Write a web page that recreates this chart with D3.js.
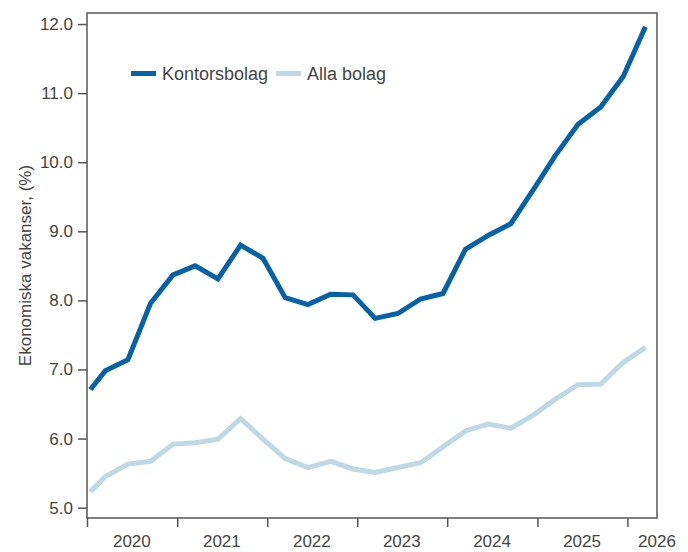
<!DOCTYPE html>
<html>
<head>
<meta charset="utf-8">
<script src="https://cdn.jsdelivr.net/npm/d3@7"></script>
<style>
  html, body { margin: 0; padding: 0; background: #fff; }
  svg { display: block; font-family: "Liberation Sans", Arial, sans-serif; }
</style>
</head>
<body>
<svg id="chart" width="688" height="552"></svg>
<script>
// Quarterly observations (first one in January 2020)
const dates = ["2020-01","2020-03","2020-06","2020-09","2020-12",
  "2021-03","2021-06","2021-09","2021-12",
  "2022-03","2022-06","2022-09","2022-12",
  "2023-03","2023-06","2023-09","2023-12",
  "2024-03","2024-06","2024-09","2024-12",
  "2025-03","2025-06","2025-09","2025-12",
  "2026-03"];

const kontorsbolag = [6.71, 6.98, 7.14, 7.96, 8.37, 8.50, 8.31, 8.80, 8.61,
  8.04, 7.94, 8.09, 8.08, 7.74, 7.81, 8.02, 8.10,
  8.74, 8.94, 9.11, 9.60, 10.10, 10.55, 10.80, 11.24, 11.96];

const allaBolag = [5.23, 5.45, 5.63, 5.67, 5.92, 5.94, 5.99, 6.29, 5.99,
  5.71, 5.58, 5.67, 5.56, 5.51, 5.58, 5.65, 5.88,
  6.11, 6.21, 6.15, 6.34, 6.57, 6.78, 6.79, 7.10, 7.32];

const seriesNames = ["Kontorsbolag", "Alla bolag"];
const yearTicks = [2020, 2021, 2022, 2023, 2024, 2025, 2026];
const yTicks = [5, 6, 7, 8, 9, 10, 11, 12];
const yTitle = "Ekonomiska vakanser, (%)";

const colors = ["#0562a8", "#bed8e4"];
const textColor = "#444";
const frameColor = "#555";

const svg = d3.select("#chart");
const plotLeft = 87, plotRight = 657, plotTop = 13, plotBottom = 518;

const parse = d3.timeParse("%Y-%m-%d");
const when = dates.map(d => parse(d + "-15"));

const x = d3.scaleTime()
  .domain([new Date(2020, 0, 1), new Date(2026, 4, 1)])
  .range([plotLeft, plotRight]);
const y = d3.scaleLinear()
  .domain([4.85, 12.16])
  .range([plotBottom, plotTop]);

// Y axis
const yAxis = svg.append("g")
  .attr("transform", `translate(${plotLeft},0)`)
  .call(d3.axisLeft(y).tickValues(yTicks).tickFormat(d3.format(".1f"))
    .tickSize(9).tickPadding(5));
yAxis.select(".domain").remove();
yAxis.selectAll(".tick line").attr("stroke", frameColor).attr("stroke-width", 1.5);
yAxis.selectAll(".tick text").attr("fill", textColor).attr("font-size", 17)
  .attr("font-family", "Liberation Sans, Arial, sans-serif");

// X axis: ticks at year starts, labels centred within each year
const xAxis = svg.append("g")
  .attr("transform", `translate(0,${plotBottom})`)
  .call(d3.axisBottom(x).tickValues(yearTicks.map(yr => new Date(yr, 0, 1)))
    .tickFormat("").tickSize(9));
xAxis.select(".domain").remove();
xAxis.selectAll(".tick line").attr("stroke", frameColor).attr("stroke-width", 1.5);

svg.append("g").selectAll("text")
  .data(yearTicks)
  .join("text")
  .attr("x", yr => Math.min(x(new Date(yr, 6, 1)), plotRight))
  .attr("y", 547)
  .attr("text-anchor", "middle")
  .attr("fill", textColor)
  .attr("font-size", 17)
  .text(yr => yr);

// Plot frame
svg.append("rect")
  .attr("x", plotLeft).attr("y", plotTop)
  .attr("width", plotRight - plotLeft).attr("height", plotBottom - plotTop)
  .attr("fill", "none")
  .attr("stroke", frameColor)
  .attr("stroke-width", 1.5);

// Y axis title
svg.append("text")
  .attr("transform", `translate(30.5,${(plotTop + plotBottom) / 2}) rotate(-90)`)
  .attr("text-anchor", "middle")
  .attr("fill", textColor)
  .attr("font-size", 17)
  .text(yTitle);

// Lines: lighter series first so the darker one sits on top
const line = d3.line()
  .x((d, i) => x(when[i]))
  .y(d => y(d));

[allaBolag, kontorsbolag].forEach((vals, k) => {
  svg.append("path")
    .datum(vals)
    .attr("d", line)
    .attr("fill", "none")
    .attr("stroke", colors[1 - k])
    .attr("stroke-width", 5);
});

// Legend
const legendItems = [
  { name: seriesNames[0], color: colors[0], x: 131 },
  { name: seriesNames[1], color: colors[1], x: 276 }
];
const lg = svg.append("g");
legendItems.forEach(it => {
  lg.append("line")
    .attr("x1", it.x).attr("x2", it.x + 25)
    .attr("y1", 73.5).attr("y2", 73.5)
    .attr("stroke", it.color).attr("stroke-width", 5);
  lg.append("text")
    .attr("x", it.x + 31).attr("y", 80)
    .attr("fill", textColor)
    .attr("font-size", 18)
    .text(it.name);
});
</script>
</body>
</html>
